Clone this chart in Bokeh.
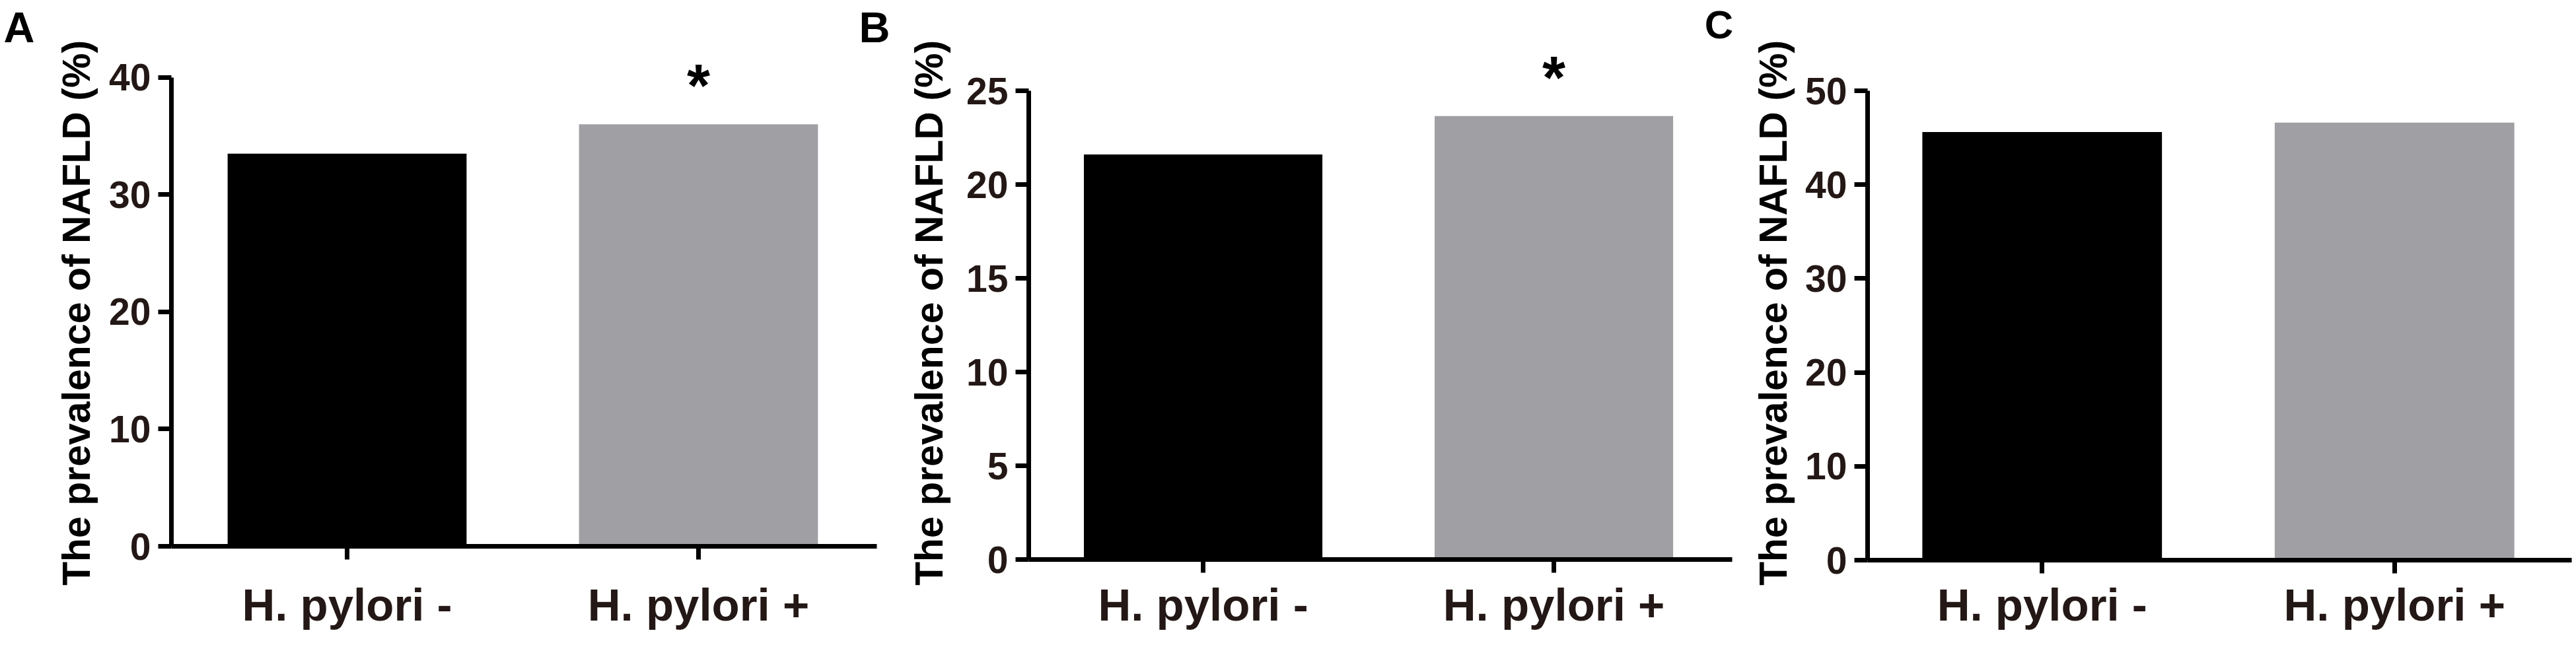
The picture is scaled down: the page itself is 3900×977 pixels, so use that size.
import math
from bokeh.plotting import figure
from bokeh.layouts import row
from bokeh.models import Range1d, SingleIntervalTicker, FixedTicker, ColumnDataSource
from bokeh.embed import file_html
from bokeh.resources import INLINE
from bokeh.core.properties import value

# ---------------- data ----------------
categories = ["H. pylori -", "H. pylori +"]
panel_letters = ["A", "B", "C"]
prevalence_A = [33.5, 36.0]
prevalence_B = [21.6, 23.65]
prevalence_C = [45.6, 46.6]
y_max = [40, 25, 50]
y_step = [10, 5, 10]
stars_A = ["", "*"]
stars_B = ["", "*"]
stars_C = ["", ""]
bar_colors = ["#000000", "#a09fa4"]
y_title = "The prevalence of NAFLD (%)"

# ---------------- layout (page pixels, measured from the top-left corner) ----------------
FONT = "Liberation Sans"
TXT = "#231815"
TOP, BOTTOM = 0, 975
FIG_H = BOTTOM - TOP


def base_fig(x0, x1, **kw):
    p = figure(width=x1 - x0, height=FIG_H, output_backend="svg", toolbar_location=None,
               min_border_top=0, min_border_right=0, **kw)
    p.frame_align = False
    p.outline_line_color = None
    p.background_fill_color = "white"
    p.border_fill_color = "white"
    return p


def title_fig(x0, x1, title_mid_x, letter=None, letter_x=None, letter_mid_y=None):
    """Narrow strip holding the rotated y-axis title (and a panel letter)."""
    p = base_fig(x0, x1, x_range=Range1d(x0, x1), y_range=Range1d(BOTTOM, TOP),
                 x_axis_type=None, y_axis_type=None, min_border_left=0, min_border_bottom=0)
    p.text(x=[title_mid_x], y=[(62 + 885) / 2], text=[y_title], angle=math.pi / 2,
           text_align="center", text_baseline="middle", text_font=value(FONT),
           text_font_style="bold", text_font_size="59px", text_color="black")
    if letter:
        p.text(x=[letter_x], y=[letter_mid_y], text=[letter], text_align="left",
               text_baseline="middle", text_font=value(FONT), text_font_style="bold",
               text_font_size="65px", text_color="black")
    return p


def make_panel(vals, ymax, step, stars, x0, x1, axis_x, tick_px, axis_end_x,
               axis_top, axis_zero, x_standoff, next_letter=None, letter_px=None, letter_size="65px"):
    unit = tick_px[1] - tick_px[0]
    to_x = lambda px: (px - tick_px[0]) / unit
    yscale = (axis_zero - axis_top) / ymax
    to_y = lambda py: (axis_zero - py) / yscale

    idx = list(range(len(categories)))
    p = base_fig(x0, x1, x_range=Range1d(to_x(axis_x), to_x(x1)),
                 y_range=Range1d(0, to_y(TOP)),
                 min_border_left=axis_x - x0, min_border_bottom=int(round(BOTTOM - axis_zero)))
    src = ColumnDataSource(dict(x=idx, val=vals, color=bar_colors))
    p.vbar(x="x", top="val", width=0.68, fill_color="color", line_color=None, source=src)

    s_x = [i for i, s in zip(idx, stars) if s]
    s_val = [v for v, s in zip(vals, stars) if s]
    s_txt = [s for s in stars if s]
    if s_txt:
        p.text(x=s_x, y=s_val, text=s_txt, y_offset=-58, text_align="center",
               text_baseline="middle", text_font=value(FONT), text_font_style="bold",
               text_font_size="90px", text_color="black")

    if next_letter:
        p.text(x=[to_x(letter_px[0])], y=[to_y(letter_px[1])], text=[next_letter],
               text_align="left", text_baseline="middle", text_font=value(FONT),
               text_font_style="bold", text_font_size=letter_size, text_color="black")

    p.xgrid.visible = False
    p.ygrid.visible = False
    for ax in (p.xaxis[0], p.yaxis[0]):
        ax.axis_line_width = 7
        ax.axis_line_color = "black"
        ax.major_tick_line_width = 7
        ax.major_tick_line_color = "black"
        ax.major_tick_out = 20
        ax.major_tick_in = 0
        ax.minor_tick_line_color = None
        ax.major_label_text_font = FONT
        ax.major_label_text_font_style = "bold"
        ax.major_label_text_color = TXT
        ax.major_label_text_line_height = 1.0

    p.yaxis.bounds = (0, ymax)
    p.yaxis.ticker = SingleIntervalTicker(interval=step)
    p.yaxis.major_label_text_font_size = "57px"
    p.yaxis.major_label_standoff = 11

    p.xaxis.bounds = (to_x(axis_x), to_x(axis_end_x))
    p.xaxis.ticker = FixedTicker(ticks=idx)
    p.xaxis.major_label_overrides = {i: c for i, c in zip(idx, categories)}
    p.xaxis.major_label_text_font_size = "69px"
    p.xaxis.major_label_standoff = x_standoff
    return p


tA = title_fig(0, 160, 115, panel_letters[0], 5, 41)
pA = make_panel(prevalence_A, y_max[0], y_step[0], stars_A, 160, 1350, 259, (525, 1057), 1327,
                116.7, 826.7, 30, panel_letters[1], (1300, 41))
tB = title_fig(1350, 1460, 1406)
pB = make_panel(prevalence_B, y_max[1], y_step[1], stars_B, 1460, 2630, 1553, (1818, 2351), 2622,
                137, 847, 10, panel_letters[2], (2580, 37.4), "60px")
tC = title_fig(2630, 2730, 2684)
pC = make_panel(prevalence_C, y_max[2], y_step[2], stars_C, 2730, 3896, 2824, (3089, 3624), 3893,
                137, 848, 9)

layout = row(tA, pA, tB, pB, tC, pC)
open("out.html", "w").write(file_html(layout, INLINE))
